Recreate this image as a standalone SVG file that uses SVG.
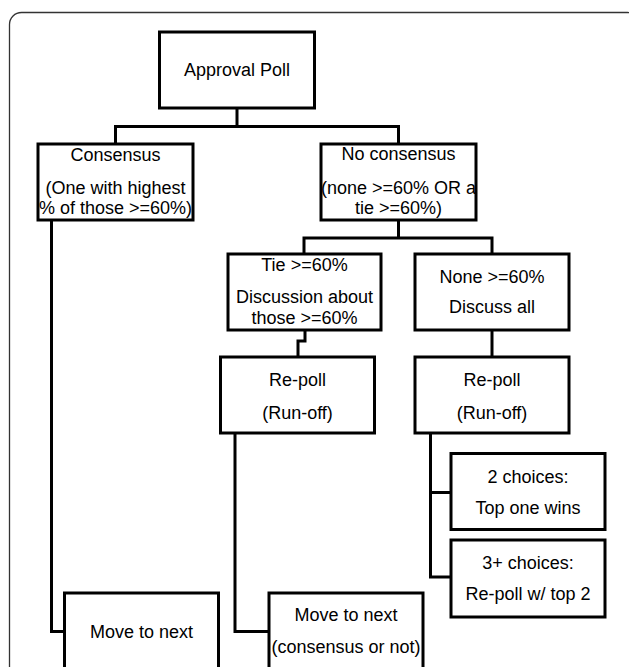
<svg xmlns="http://www.w3.org/2000/svg" width="629" height="667" viewBox="0 0 629 667">
<style>
.box{fill:#fff;stroke:#000;stroke-width:3}
.con{fill:none;stroke:#000;stroke-width:3;stroke-linejoin:miter}
text{font-family:"Liberation Sans",Arial,sans-serif;font-size:18px;fill:#000;text-anchor:middle}
</style>
<rect x="0" y="0" width="629" height="667" fill="#fff"/>
<rect x="9.5" y="12.5" width="630" height="700" rx="12" fill="none" stroke="#333" stroke-width="1.3"/>
<g id="connectors">
<path class="con" d="M115.5 144 V126.5 H398.5 V144 M237 108 V126.5"/>
<path class="con" d="M304 254 V238 H492 V254 M398.5 220 V238"/>
<path class="con" d="M305 330 V341 H298 V357"/>
<path class="con" d="M492 330 V357"/>
<path class="con" d="M51.5 220 V631.5 H64.5"/>
<path class="con" d="M235 433 V631.5 H269"/>
<path class="con" d="M430.5 433 V577 H451 M430.5 492.5 H451"/>
</g>
<g id="approval">
<rect class="box" x="159.5" y="32" width="155" height="76"/>
<text x="237" y="76">Approval Poll</text>
</g>
<g id="consensus">
<rect class="box" x="38" y="144" width="155" height="76"/>
<text x="115.5" y="161">Consensus</text>
<text x="115.5" y="194">(One with highest</text>
<text x="115.5" y="214">% of those &gt;=60%)</text>
</g>
<g id="noconsensus">
<rect class="box" x="321" y="144" width="155" height="76"/>
<text x="398.5" y="160">No consensus</text>
<text x="398.5" y="194">(none &gt;=60% OR a</text>
<text x="398.5" y="214">tie &gt;=60%)</text>
</g>
<g id="tie">
<rect class="box" x="228" y="254" width="153" height="76"/>
<text x="304.5" y="271">Tie &gt;=60%</text>
<text x="304.5" y="303">Discussion about</text>
<text x="304.5" y="324">those &gt;=60%</text>
</g>
<g id="none">
<rect class="box" x="415" y="254" width="154" height="76"/>
<text x="492" y="283">None &gt;=60%</text>
<text x="492" y="313">Discuss all</text>
</g>
<g id="repoll1">
<rect class="box" x="220.5" y="357" width="154" height="76"/>
<text x="297.5" y="386">Re-poll</text>
<text x="297.5" y="419">(Run-off)</text>
</g>
<g id="repoll2">
<rect class="box" x="415" y="357" width="154" height="76"/>
<text x="492" y="386">Re-poll</text>
<text x="492" y="419">(Run-off)</text>
</g>
<g id="choices2">
<rect class="box" x="451" y="453.5" width="154" height="76"/>
<text x="528" y="483">2 choices:</text>
<text x="528" y="514">Top one wins</text>
</g>
<g id="choices3">
<rect class="box" x="451" y="540" width="154" height="77"/>
<text x="528" y="569">3+ choices:</text>
<text x="528" y="600">Re-poll w/ top 2</text>
</g>
<g id="move1">
<rect class="box" x="64.5" y="593" width="154" height="90"/>
<text x="141.5" y="638">Move to next</text>
</g>
<g id="move2">
<rect class="box" x="269" y="593" width="154" height="90"/>
<text x="346" y="621">Move to next</text>
<text x="346" y="653">(consensus or not)</text>
</g>
</svg>
